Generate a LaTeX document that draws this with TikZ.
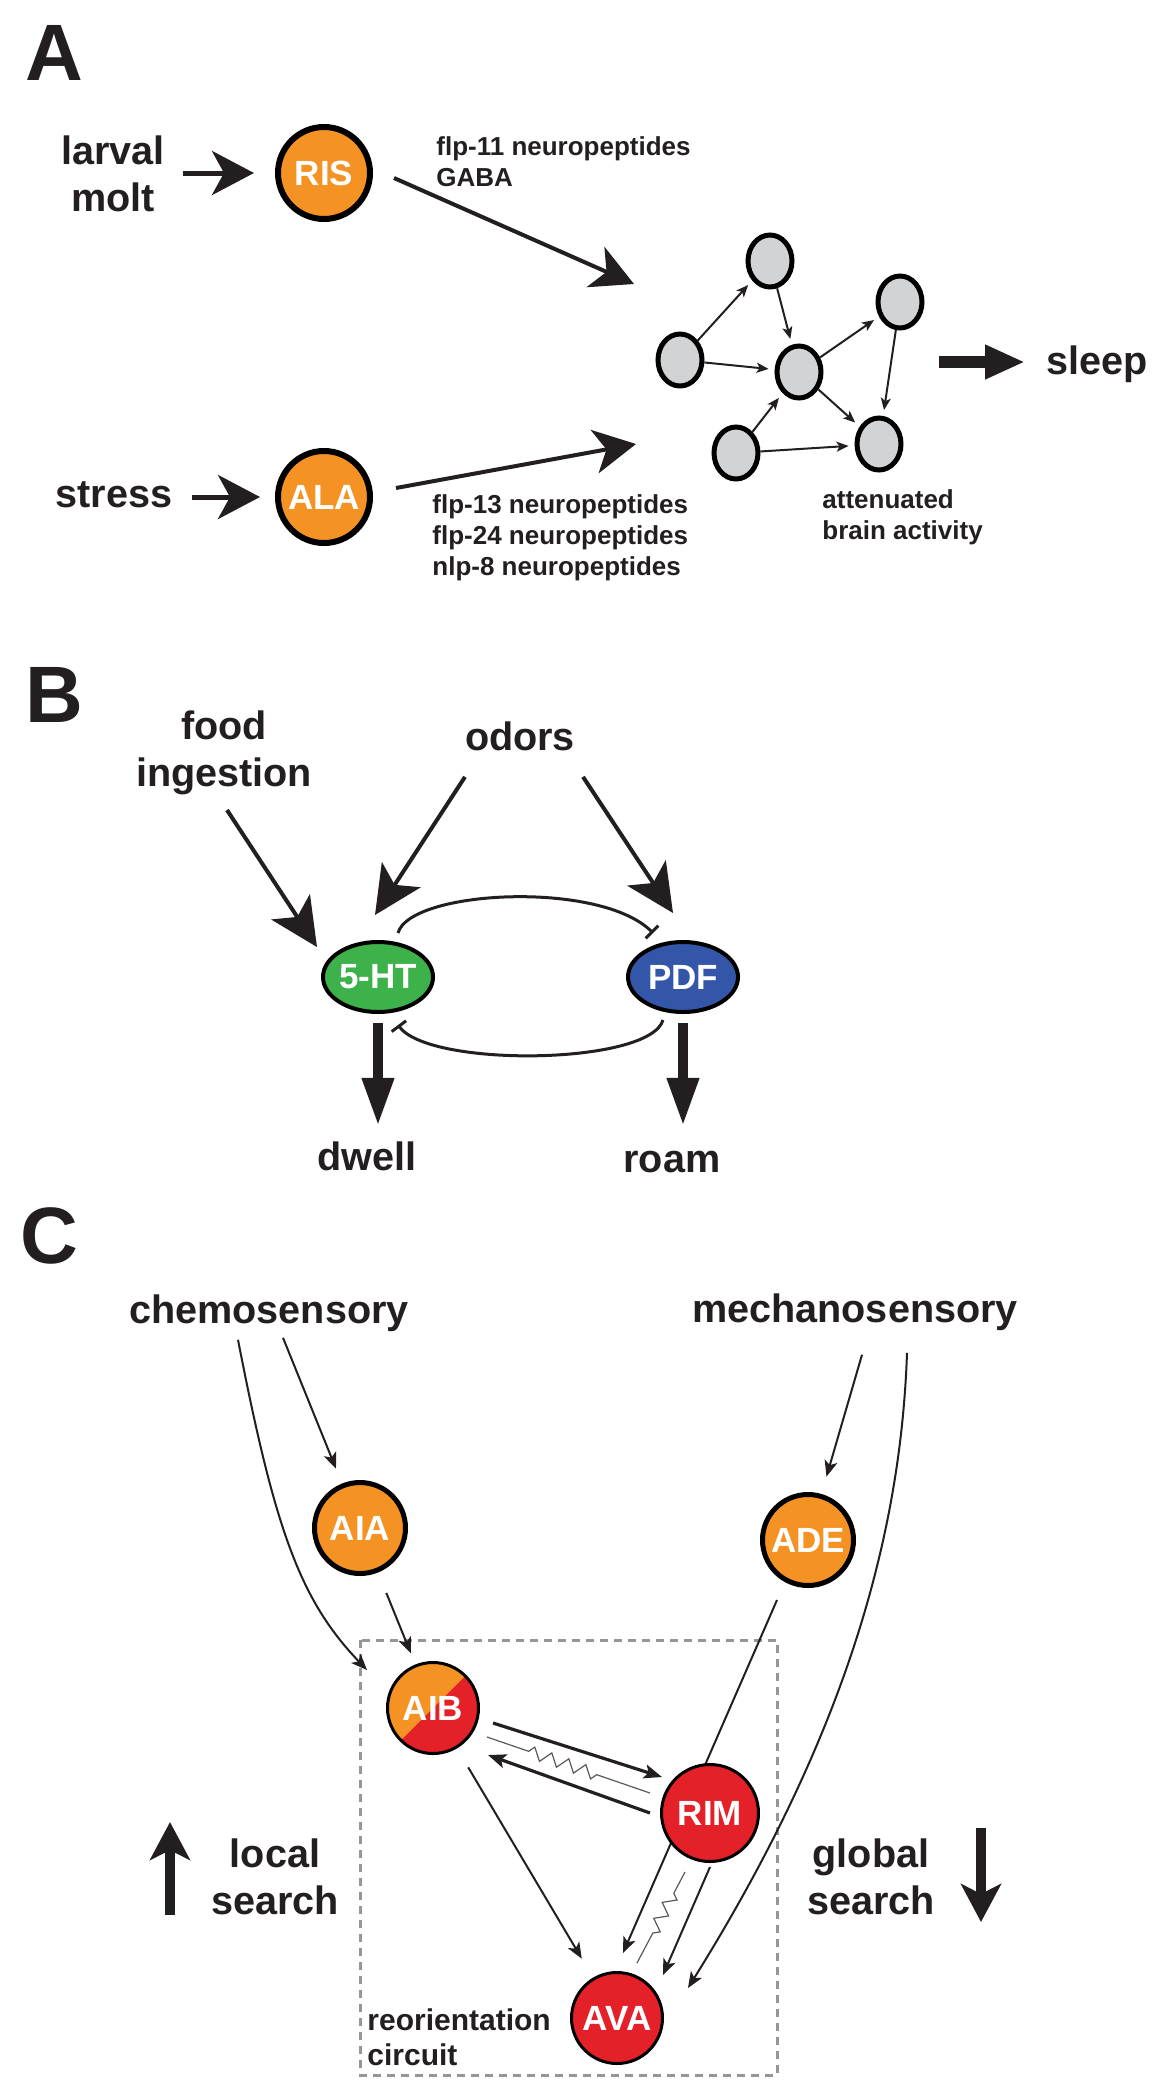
\documentclass[tikz,border=0pt]{standalone}
\usepackage{fontspec}
\setmainfont{Liberation Sans}
\usepackage{xcolor}
\usepackage{tikz}
\usetikzlibrary{
    positioning,
    arrows.meta,
    calc,
    shapes.geometric,
    decorations.pathmorphing
}
\definecolor{neuronOrange}{RGB}{245, 146, 36}
\definecolor{neuronRed}{RGB}{228, 32, 40}
\definecolor{htGreen}{RGB}{62, 178, 74}
\definecolor{pdfBlue}{RGB}{52, 86, 168}
\definecolor{netGray}{RGB}{210, 211, 213}
\definecolor{inkBlack}{RGB}{35, 31, 32}
\definecolor{boxGray}{RGB}{150, 150, 150}

\tikzset{
    panelText/.style={font=\fontsize{40}{48}\selectfont\bfseries, inner sep=0pt, anchor=base west},
    bigText/.style={font=\fontsize{19.8}{23.5}\selectfont\bfseries, inner sep=0pt, align=center},
    smallText/.style={font=\fontsize{13}{15.5}\selectfont\bfseries, inner sep=0pt, align=left, anchor=north west},
    neuron/.style={circle, draw=black, line width=2.5pt, minimum size=45.5pt, inner sep=0pt,
        fill=neuronOrange, text=white, font=\fontsize{17.5}{20}\selectfont\bfseries},
    netCell/.style={ellipse, draw=black, fill=netGray, line width=2.5pt,
        minimum width=22pt, minimum height=26pt, inner sep=0pt},
    transmitter/.style={ellipse, draw=black, line width=2pt, minimum width=55pt, minimum height=35pt,
        inner sep=0pt, text=white, font=\fontsize{17.5}{20}\selectfont\bfseries},
    inArrow/.style={line width=2.5pt, -{Stealth[length=21pt, width=22pt, inset=6pt]}},
    feedArrow/.style={line width=2pt, -{Stealth[length=24pt, width=23pt, inset=6pt]}},
    netArrow/.style={line width=1pt, -{Stealth[length=6pt, width=5pt, inset=1.5pt]}, shorten >=3pt},
    fatArrow/.style={line width=6pt, -{Triangle[length=20pt, width=16pt]}},
    outArrow/.style={line width=5pt, -{Triangle[length=24pt, width=15pt]}},
    inhib/.style={line width=1.5pt, -{Bar[width=9pt]}},
    wire/.style={line width=1pt, -{Stealth[length=8pt, width=6.5pt, inset=2pt]}},
    thickWire/.style={line width=1.6pt, -{Stealth[length=9pt, width=7pt, inset=2pt]}},
    gapJunction/.style={draw=black!65, line width=0.6pt, decorate,
        decoration={zigzag, amplitude=3pt, segment length=9pt}},
    searchArrow/.style={line width=5pt, -{Stealth[length=19pt, width=20pt, inset=5pt]}}
}

\begin{document}
\begin{tikzpicture}[x=0.5pt, y=-0.5pt, inkBlack]
    \useasboundingbox (0,0) rectangle (1160,2100);

    % パネルA
    \node[panelText] (labA) at (25,80) {A};
    \node[bigText] (larval) at (113,174) {larval\\molt};
    \node[bigText, anchor=base] (stress) at (114,507) {stress};
    \node[neuron, line width=3pt, minimum size=46pt] (RIS) at (324,173) {RIS};
    \node[neuron, line width=3pt, minimum size=46pt] (ALA) at (324,497) {ALA};
    \draw[inArrow, shorten <=9pt, shorten >=10.5pt] (larval.east |- RIS) -- (RIS);
    \draw[inArrow, shorten <=9.5pt, shorten >=7.5pt] (stress.east |- ALA) -- (ALA);

    % 神経回路網
    \node[netCell] (n1) at (680,360) {};
    \node[netCell] (n2) at (770,261) {};
    \node[netCell] (n3) at (799,372) {};
    \node[netCell] (n4) at (900,302) {};
    \node[netCell] (n5) at (736,453) {};
    \node[netCell] (n6) at (879,444) {};
    \draw[netArrow] (n1) -- (n2);
    \draw[netArrow] (n1) -- (n3);
    \draw[netArrow] (n2) -- (n3);
    \draw[netArrow] (n3) -- (n4);
    \draw[netArrow] (n3) -- (n6);
    \draw[netArrow] (n4) -- (n6);
    \draw[netArrow] (n5) -- (n3);
    \draw[netArrow] (n5) -- (n6);

    \coordinate (netIn1) at (634,284);
    \coordinate (netIn2) at (636,444);
    \coordinate (netOut) at (939,362);
    \draw[inArrow, line width=2pt] ([shift={(21,5)}]RIS.east) -- (netIn1);
    \draw[inArrow, line width=2pt] ([shift={(23,-9)}]ALA.east) -- (netIn2);
    \node[smallText] (risOut) at (436,136) {flp-11 neuropeptides\\GABA};
    \node[smallText] (alaOut) at (432,494) {flp-13 neuropeptides\\flp-24 neuropeptides\\nlp-8 neuropeptides};
    \node[smallText] (attenuated) at (822,489) {attenuated\\brain activity};
    \node[bigText, anchor=base west] (sleep) at (1046,374) {sleep};
    \draw[fatArrow, shorten >=10.5pt] (netOut) -- (netOut -| sleep.west);

    % パネルB
    \node[panelText] (labB) at (25,722) {B};
    \node[bigText] (food) at (224,753) {food\\ingestion};
    \node[bigText, anchor=base] (odors) at (520,750) {odors};
    \node[transmitter, fill=htGreen] (serotonin) at (378,977) {5-HT};
    \node[transmitter, fill=pdfBlue] (pdf) at (683,977) {PDF};
    \draw[feedArrow] ([shift={(3,57)}]food.center) -- ([shift={(-61,-30)}]serotonin.center);
    \draw[feedArrow] ([shift={(-55,41)}]odors.center) -- ([shift={(-3,-62)}]serotonin.center);
    \draw[feedArrow] ([shift={(63,41)}]odors.center) -- ([shift={(-10,-64)}]pdf.center);
    \draw[inhib] ([shift={(20,-44)}]serotonin.center) .. controls (410,890) and (600,880) .. ([shift={(-30,-44)}]pdf.center);
    \draw[inhib] ([shift={(-20,43)}]pdf.center) .. controls (650,1065) and (430,1068) .. ([shift={(20,48)}]serotonin.center);
    \node[bigText, anchor=base] (dwell) at (367,1170) {dwell};
    \node[bigText, anchor=base] (roam) at (672,1172) {roam};
    \draw[outArrow, shorten <=4.5pt, shorten >=7.5pt] (serotonin.south) -- (serotonin.south |- dwell.north);
    \draw[outArrow, shorten <=4.5pt, shorten >=7.5pt] (pdf.south) -- (pdf.south |- dwell.north);

    % パネルC
    \node[panelText] (labC) at (20,1263) {C};
    \draw[boxGray, line width=1.5pt, dash pattern=on 4pt off 3pt] (360,1640) rectangle (777,2075);
    \node[bigText, anchor=base] (chemo) at (269,1323) {chemosensory};
    \node[bigText, anchor=base] (mechano) at (855,1322) {mechanosensory};
    \node[neuron] (AIA) at (360,1528) {AIA};
    \node[neuron] (ADE) at (808,1540) {ADE};
    \node[neuron, line width=1.5pt, fill=neuronRed,
        path picture={\fill[neuronOrange] (path picture bounding box.north west) -- (path picture bounding box.north east) -- (path picture bounding box.south west) -- cycle;}] (AIB) at (433,1708) {AIB};
    \node[neuron, line width=1.5pt, fill=neuronRed] (AVA) at (617,2018) {AVA};
    \draw[wire] ([shift={(-31,60)}]ADE.center) -- ([shift={(6,-65)}]AVA.center);
    \node[neuron, line width=1.5pt, minimum size=48.5pt, fill=neuronRed] (RIM) at (710,1813) {RIM};

    \draw[wire, shorten >=8pt] ([shift={(14,25)}]chemo.center) -- (AIA);
    \draw[wire] ([shift={(-31,27)}]chemo.center) .. controls (275,1530) and (300,1600) .. ([shift={(-66,-38)}]AIB.center);
    \draw[wire, shorten <=11pt, shorten >=6pt] (AIA) -- (AIB);
    \draw[wire, shorten >=9pt] ([shift={(7,43)}]mechano.center) -- (ADE);
    \draw[wire] ([shift={(52,41)}]mechano.center) .. controls (900,1560) and (830,1760) .. ([shift={(71,-30)}]AVA.center);

    \draw[thickWire] ([shift={(60,15)}]AIB.center) -- ([shift={(-48,-36)}]RIM.center);
    \draw[thickWire] ([shift={(-60,0)}]RIM.center) -- ([shift={(55,47)}]AIB.center);
    \draw[gapJunction, decoration={pre length=22pt, post length=24pt}] ([shift={(54,29)}]AIB.center) -- ([shift={(-60,-20)}]RIM.center);
    \draw[wire, shorten <=11pt, shorten >=11pt] (AIB) -- (AVA);
    \draw[wire] ([shift={(0,54)}]RIM.center) -- ([shift={(46,-43)}]AVA.center);
    \draw[gapJunction, decoration={pre length=12pt, post length=13pt}] ([shift={(-25,59)}]RIM.center) -- ([shift={(20,-55)}]AVA.center);

    \node[bigText] (localSearch) at (275,1877) {local\\search};
    \node[bigText] (globalSearch) at (871,1877) {global\\search};
    \coordinate (localFrom) at (170,1915);
    \coordinate (localTo) at (170,1822);
    \coordinate (globalFrom) at (981,1828);
    \coordinate (globalTo) at (981,1922);
    \draw[searchArrow] (localFrom) -- (localTo);
    \draw[searchArrow] (globalFrom) -- (globalTo);
    \node[font=\fontsize{15}{17.5}\selectfont\bfseries, inner sep=0pt, align=left, anchor=north west] (reorient) at (367,2008) {reorientation\\circuit};
\end{tikzpicture}
\end{document}
